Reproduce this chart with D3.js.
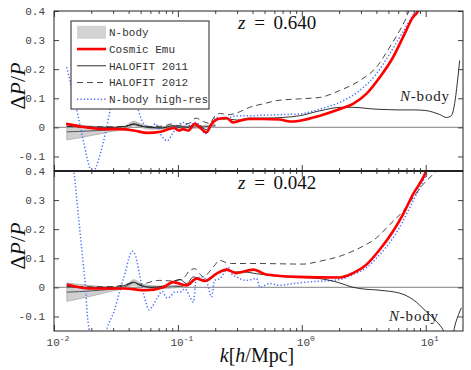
<!DOCTYPE html>
<html>
<head>
<meta charset="utf-8">
<script src="https://cdn.jsdelivr.net/npm/d3@7"></script>
<style>
  body { margin: 0; background: #fff; }
  svg { display: block; }
</style>
</head>
<body>
<svg id="chart" width="471" height="370"></svg>
<script>
// Axis settings.
const kDomain = [0.01, 20];
const yDomain = [-0.15, 0.4];
const yTicks = [-0.1, 0, 0.1, 0.2, 0.3, 0.4];
const kMajor = [0.01, 0.1, 1, 10];
const kMajorExp = ['-2', '-1', '0', '1'];
const legendLabels = ['N-body', 'Cosmic Emu', 'HALOFIT 2011', 'HALOFIT 2012', 'N-body high-res'];
const redshifts = ['0.640', '0.042'];

// z = 0.640 : N-body band.
const kBand640 = [0.0127, 0.016, 0.02, 0.025, 0.03, 0.035, 0.04, 0.044, 0.05, 0.06, 0.075, 0.09, 0.11, 0.13, 0.16, 0.2];
const bandHi640 = [0.012, 0.008, 0.004, 0.0, -0.002, -0.002, 0.012, 0.021, 0.012, 0.003, 0.002, 0.006, 0.005, 0.005, 0.006, 0.01];
const bandLo640 = [-0.043, -0.036, -0.028, -0.02, -0.013, -0.009, 0.0, 0.006, 0.0, -0.006, -0.006, -0.002, -0.003, -0.003, -0.002, 0.002];

// z = 0.640 : Cosmic Emu.
const kEmu640 = [0.0125, 0.0164, 0.0253, 0.0345, 0.0442, 0.0565, 0.0725, 0.0846, 0.0929, 0.102, 0.110, 0.121, 0.137, 0.150, 0.170, 0.187, 0.211, 0.247, 0.279, 0.316, 0.381, 0.488, 0.665, 0.80, 0.964, 1.40, 2.03, 2.59, 3.32, 4.26, 5.45, 6.56, 7.90, 8.67, 9.3];
const emu640 = [0.012, 0.003, -0.006, -0.006, -0.011, -0.019, -0.015, -0.006, -0.002, -0.011, -0.006, -0.011, 0.012, 0.0, -0.017, 0.012, 0.029, 0.032, 0.017, 0.023, 0.029, 0.029, 0.027, 0.020, 0.023, 0.040, 0.063, 0.081, 0.115, 0.172, 0.241, 0.310, 0.379, 0.40, 0.44];

// z = 0.640 : HALOFIT 2011 (thin black).
const kH11_640 = [0.0127, 0.02, 0.03, 0.038, 0.044, 0.05, 0.06, 0.075, 0.085, 0.093, 0.1, 0.11, 0.12, 0.137, 0.15, 0.17, 0.19, 0.22, 0.25, 0.3, 0.38, 0.5, 0.7, 0.96, 1.4, 2.1, 2.6, 3.2, 3.8, 5.0, 6.0, 8.0, 10.0, 11.5, 13.0, 14.7, 16.1, 17.1, 18.2, 18.8];
const h11_640 = [0.002, 0.001, 0.0, 0.004, 0.01, 0.004, 0.0, -0.002, 0.004, 0.006, 0.0, 0.002, 0.0, 0.012, 0.006, -0.008, 0.017, 0.029, 0.029, 0.025, 0.032, 0.032, 0.034, 0.040, 0.057, 0.069, 0.069, 0.066, 0.063, 0.061, 0.060, 0.060, 0.058, 0.052, 0.044, 0.034, 0.040, 0.081, 0.172, 0.230];

// z = 0.640 : HALOFIT 2012 (dashed).
const kH12_640 = [0.0127, 0.02, 0.03, 0.04, 0.044, 0.05, 0.06, 0.075, 0.09, 0.1, 0.11, 0.125, 0.14, 0.16, 0.18, 0.2, 0.22, 0.25, 0.3, 0.38, 0.49, 0.63, 0.96, 1.4, 2.03, 2.94, 4.0, 5.13, 6.17, 7.0, 7.6];
const h12_640 = [0.003, 0.002, 0.002, 0.006, 0.012, 0.006, 0.003, 0.004, 0.012, 0.006, 0.01, 0.015, 0.032, 0.02, 0.014, 0.04, 0.048, 0.043, 0.05, 0.069, 0.081, 0.092, 0.098, 0.103, 0.127, 0.161, 0.207, 0.276, 0.333, 0.379, 0.42];

// z = 0.640 : N-body high-res (dotted).
const kHr640 = [0.01266, 0.0154, 0.0169, 0.0186, 0.0204, 0.0217, 0.0238, 0.0261, 0.0278, 0.0295, 0.033, 0.037, 0.042, 0.046, 0.0485, 0.0532, 0.0602, 0.0661, 0.0725, 0.082, 0.090, 0.0977, 0.110, 0.125, 0.137, 0.155, 0.165, 0.175, 0.187, 0.205, 0.232, 0.262, 0.297, 0.38, 0.5, 0.7, 0.96, 1.4, 2.03, 2.94, 4.0, 5.13, 6.17, 7.43, 8.15, 8.8];
const hr640 = [0.207, 0.052, -0.029, -0.109, -0.16, -0.14, -0.086, -0.017, 0.040, 0.092, 0.18, 0.22, 0.17, 0.09, 0.052, 0.012, 0.0, 0.012, -0.023, -0.046, -0.023, 0.0, 0.017, 0.006, 0.017, 0.0, -0.023, -0.011, 0.017, 0.034, 0.029, 0.034, 0.040, 0.040, 0.042, 0.044, 0.046, 0.063, 0.086, 0.127, 0.184, 0.253, 0.310, 0.368, 0.40, 0.44];

// z = 0.042 : N-body band.
const kBand042 = [0.0127, 0.016, 0.02, 0.025, 0.03, 0.035, 0.04, 0.044, 0.05, 0.06, 0.075, 0.09, 0.11];
const bandHi042 = [0.015, 0.01, 0.006, 0.002, 0.0, 0.0, 0.014, 0.026, 0.014, 0.006, 0.004, 0.006, 0.008];
const bandLo042 = [-0.048, -0.039, -0.03, -0.02, -0.012, -0.006, 0.003, 0.008, 0.001, -0.004, -0.004, -0.002, 0.0];

// z = 0.042 : Cosmic Emu.
const kEmu042 = [0.0127, 0.0195, 0.0362, 0.056, 0.076, 0.0916, 0.1175, 0.1415, 0.165, 0.205, 0.247, 0.297, 0.405, 0.519, 0.906, 2.03, 2.59, 3.32, 4.26, 5.45, 6.56, 7.90, 9.53, 10.1, 10.8];
const emu042 = [0.010, -0.004, -0.004, -0.010, 0.0, 0.018, 0.007, 0.030, 0.022, 0.047, 0.061, 0.049, 0.061, 0.044, 0.036, 0.034, 0.049, 0.078, 0.130, 0.193, 0.251, 0.320, 0.377, 0.40, 0.43];

// z = 0.042 : HALOFIT 2011 (thin black).
const kH11_042 = [0.0127, 0.02, 0.03, 0.038, 0.0438, 0.0494, 0.0594, 0.081, 0.0862, 0.104, 0.1175, 0.133, 0.155, 0.17, 0.193, 0.218, 0.239, 0.279, 0.336, 0.431, 0.552, 0.753, 1.09, 1.40, 2.03, 2.5, 2.94, 4.26, 6.17, 7.90, 10.1, 12.2, 13.8, 15.6, 17.5, 19.4];
const h11_042 = [0.001, 0.0, 0.0, 0.008, 0.018, 0.007, 0.0, 0.007, 0.014, 0.027, 0.013, 0.036, 0.027, 0.024, 0.041, 0.053, 0.061, 0.053, 0.053, 0.047, 0.041, 0.036, 0.033, 0.030, 0.015, 0.002, -0.004, -0.010, -0.020, -0.042, -0.083, -0.117, -0.146, -0.20, -0.12, -0.07];

// z = 0.042 : HALOFIT 2012 (dashed).
const kH12_042 = [0.0127, 0.02, 0.03, 0.038, 0.044, 0.05, 0.0594, 0.0714, 0.09, 0.110, 0.125, 0.137, 0.150, 0.16, 0.193, 0.218, 0.239, 0.271, 0.431, 1.026, 1.40, 2.03, 2.94, 4.0, 5.13, 6.56, 7.90, 9.53, 11.5, 12.2, 13];
const h12_042 = [0.003, 0.002, 0.003, 0.01, 0.016, 0.01, 0.018, 0.024, 0.022, 0.03, 0.059, 0.064, 0.047, 0.036, 0.070, 0.093, 0.087, 0.082, 0.082, 0.080, 0.090, 0.107, 0.136, 0.170, 0.216, 0.262, 0.308, 0.354, 0.389, 0.40, 0.42];

// z = 0.042 : N-body high-res (dotted).
const kHr042 = [0.0127, 0.01449, 0.01496, 0.01541, 0.0164, 0.01746, 0.0180, 0.01856, 0.01915, 0.0215, 0.0245, 0.0269, 0.0305, 0.0345, 0.0378, 0.0403, 0.0428, 0.0456, 0.0485, 0.0515, 0.0549, 0.0583, 0.0621, 0.068, 0.0747, 0.082, 0.0862, 0.0945, 0.104, 0.114, 0.125, 0.133, 0.141, 0.155, 0.17, 0.18, 0.187, 0.198, 0.218, 0.239, 0.254, 0.271, 0.297, 0.357, 0.431, 0.46, 0.552, 0.665, 0.85, 1.09, 1.40, 2.03, 2.59, 3.32, 4.26, 5.45, 6.56, 7.90, 9.53, 10.4, 11];
const hr042 = [0.65, 0.40, 0.342, 0.285, 0.170, 0.055, -0.002, -0.094, -0.14, -0.22, -0.22, -0.14, -0.083, -0.002, 0.055, 0.101, 0.124, 0.107, 0.055, -0.002, -0.048, -0.077, -0.066, -0.037, -0.014, -0.037, -0.033, -0.016, -0.016, -0.005, -0.033, -0.051, 0.030, 0.036, 0.024, -0.016, -0.033, 0.024, 0.030, 0.053, 0.070, 0.047, 0.036, 0.024, 0.030, 0.0, 0.013, 0.007, 0.013, 0.018, 0.021, 0.027, 0.044, 0.067, 0.113, 0.170, 0.228, 0.297, 0.366, 0.40, 0.44];

// Pair up k values and series values.
const zip = (ks, vs) => ks.map((k, i) => ({ k, v: vs[i] }));
const zipBand = (ks, lo, hi) => ks.map((k, i) => ({ k, lo: lo[i], hi: hi[i] }));

const panels = [
  {
    z: redshifts[0],
    band: zipBand(kBand640, bandLo640, bandHi640),
    emu: zip(kEmu640, emu640),
    h11: zip(kH11_640, h11_640),
    h12: zip(kH12_640, h12_640),
    hr: zip(kHr640, hr640),
    nbodyAt: [400, 101]
  },
  {
    z: redshifts[1],
    band: zipBand(kBand042, bandLo042, bandHi042),
    emu: zip(kEmu042, emu042),
    h11: zip(kH11_042, h11_042),
    h12: zip(kH12_042, h12_042),
    hr: zip(kHr042, hr042),
    nbodyAt: [389, 321]
  }
];

const svg = d3.select('#chart');

// Dimensions.
const left = 54, right = 463, top0 = 11, panelH = 160;
const monoFont = '"Liberation Mono", "DejaVu Sans Mono", monospace';
const serifFont = '"Liberation Serif", "DejaVu Serif", serif';
const blue = '#4f70ff';

const xScale = d3.scaleLog().domain(kDomain).range([left, right]);
const kMinor = xScale.ticks().filter(k => !kMajor.includes(k) && k < kDomain[1]);

panels.forEach((p, i) => {
  const y0 = top0 + i * panelH;
  const y1 = y0 + panelH;
  const yScale = d3.scaleLinear().domain(yDomain).range([y1, y0]);

  // Clip.
  const clipId = `clip-${i}`;
  svg.append('clipPath').attr('id', clipId)
    .append('rect')
    .attr('x', left).attr('y', y0)
    .attr('width', right - left).attr('height', panelH);

  const plot = svg.append('g').attr('clip-path', `url(#${clipId})`);

  // Zero line.
  plot.append('line')
    .attr('x1', left).attr('x2', right)
    .attr('y1', yScale(0)).attr('y2', yScale(0))
    .attr('stroke', '#9a9a9a')
    .attr('stroke-width', 1.3);

  const line = d3.line()
    .x(d => xScale(d.k))
    .y(d => yScale(d.v))
    .curve(d3.curveMonotoneX);

  // N-body band.
  plot.append('path')
    .datum(p.band)
    .attr('fill', '#d0d0d0')
    .attr('stroke', '#a8a8a8')
    .attr('stroke-width', 0.8)
    .attr('d', d3.area()
      .x(d => xScale(d.k))
      .y0(d => yScale(d.lo))
      .y1(d => yScale(d.hi))
      .curve(d3.curveMonotoneX));

  plot.append('path')
    .datum(p.band.map(d => ({ k: d.k, v: (d.lo + d.hi) / 2 })))
    .attr('fill', 'none')
    .attr('stroke', '#555')
    .attr('stroke-width', 1)
    .attr('d', line);

  // N-body high-res.
  plot.append('path')
    .datum(p.hr)
    .attr('fill', 'none')
    .attr('stroke', blue)
    .attr('stroke-width', 1.5)
    .attr('stroke-dasharray', '1.3,2.1')
    .attr('d', line);

  // HALOFIT 2012.
  plot.append('path')
    .datum(p.h12)
    .attr('fill', 'none')
    .attr('stroke', '#333')
    .attr('stroke-width', 0.9)
    .attr('stroke-dasharray', '6,4')
    .attr('d', line);

  // HALOFIT 2011.
  plot.append('path')
    .datum(p.h11)
    .attr('fill', 'none')
    .attr('stroke', '#1a1a1a')
    .attr('stroke-width', 0.9)
    .attr('d', line);

  // Cosmic Emu.
  plot.append('path')
    .datum(p.emu)
    .attr('fill', 'none')
    .attr('stroke', '#ff0000')
    .attr('stroke-width', 2.6)
    .attr('stroke-linejoin', 'round')
    .attr('d', line);

  // Y axes (ticks inside).
  svg.append('g')
    .attr('transform', `translate(${left},0)`)
    .call(d3.axisLeft(yScale).tickValues(yTicks).tickSize(-5).tickPadding(9)
      .tickFormat(d => d === 0 ? '0' : String(d)))
    .call(g => g.select('.domain').remove())
    .call(g => g.selectAll('line').attr('stroke', '#444'))
    .call(g => g.selectAll('text')
      .attr('font-family', monoFont).attr('font-size', 11).attr('fill', '#444'));

  svg.append('g')
    .attr('transform', `translate(${right},0)`)
    .call(d3.axisRight(yScale).tickValues(yTicks).tickSize(-5).tickFormat(''))
    .call(g => g.select('.domain').remove())
    .call(g => g.selectAll('line').attr('stroke', '#444'));

  // X ticks on top and bottom edge.
  [[y0, d3.axisTop], [y1, d3.axisBottom]].forEach(([yy, axis]) => {
    svg.append('g')
      .attr('transform', `translate(0,${yy})`)
      .call(axis(xScale).tickValues(kMajor).tickSize(-6).tickFormat(''))
      .call(g => g.select('.domain').remove())
      .call(g => g.selectAll('line').attr('stroke', '#444'));
    svg.append('g')
      .attr('transform', `translate(0,${yy})`)
      .call(axis(xScale).tickValues(kMinor).tickSize(-3).tickFormat(''))
      .call(g => g.select('.domain').remove())
      .call(g => g.selectAll('line').attr('stroke', '#444'));
  });

  // Frame.
  svg.append('rect')
    .attr('x', left).attr('y', y0)
    .attr('width', right - left).attr('height', panelH)
    .attr('fill', 'none')
    .attr('stroke', '#222')
    .attr('stroke-width', 1);

  // Redshift label.
  const zText = svg.append('text')
    .attr('x', 238).attr('y', y0 + 18)
    .attr('font-family', serifFont)
    .attr('font-size', 19)
    .attr('word-spacing', 4)
    .attr('fill', '#111');
  zText.append('tspan').attr('font-style', 'italic').text('z');
  zText.append('tspan').text(` = ${p.z}`);

  // N-body note.
  const nText = svg.append('text')
    .attr('x', p.nbodyAt[0]).attr('y', p.nbodyAt[1])
    .attr('font-family', serifFont)
    .attr('font-size', 15)
    .attr('letter-spacing', 0.8)
    .attr('fill', '#222');
  nText.append('tspan').attr('font-style', 'italic').text('N');
  nText.append('tspan').text('-body');

  // Y label.
  const yText = svg.append('text')
    .attr('transform', `translate(25,${(yScale(0.4) + yScale(-0.15)) / 2 - 5}) rotate(-90)`)
    .attr('text-anchor', 'middle')
    .attr('font-family', serifFont)
    .attr('font-size', 22)
    .attr('fill', '#111');
  yText.append('tspan').text('Δ');
  yText.append('tspan').attr('font-style', 'italic').text('P');
  yText.append('tspan').text('/');
  yText.append('tspan').attr('font-style', 'italic').text('P');
});

// Thick line between panels.
svg.append('line')
  .attr('x1', left).attr('x2', right)
  .attr('y1', top0 + panelH).attr('y2', top0 + panelH)
  .attr('stroke', '#222')
  .attr('stroke-width', 2);

// X tick labels.
const yBottom = top0 + 2 * panelH;
kMajor.forEach((k, i) => {
  const t = svg.append('text')
    .attr('x', xScale(k) + 4).attr('y', yBottom + 15)
    .attr('text-anchor', 'middle')
    .attr('font-family', monoFont)
    .attr('font-size', 11)
    .attr('fill', '#444');
  t.append('tspan').text('10');
  t.append('tspan').attr('font-size', 8).attr('dy', -5).text(kMajorExp[i]);
});

// X label.
const xText = svg.append('text')
  .attr('x', 257).attr('y', 362)
  .attr('text-anchor', 'middle')
  .attr('font-family', serifFont)
  .attr('font-size', 20)
  .attr('fill', '#111');
xText.append('tspan').attr('font-style', 'italic').text('k');
xText.append('tspan').text('[');
xText.append('tspan').attr('font-style', 'italic').text('h');
xText.append('tspan').text('/Mpc]');

// Legend.
const legend = svg.append('g');
legend.append('rect')
  .attr('x', 71).attr('y', 21)
  .attr('width', 138).attr('height', 88)
  .attr('fill', '#fff')
  .attr('stroke', '#222')
  .attr('stroke-width', 1);

const rowY = i => 32.3 + i * 16.75;
const swatches = [
  g => g.append('rect').attr('x', 77).attr('y', -6.5).attr('width', 29).attr('height', 13).attr('fill', '#d3d3d3'),
  g => g.append('line').attr('x1', 77).attr('x2', 106).attr('stroke', '#ff0000').attr('stroke-width', 2.6),
  g => g.append('line').attr('x1', 77).attr('x2', 106).attr('stroke', '#1a1a1a').attr('stroke-width', 0.9),
  g => g.append('line').attr('x1', 77).attr('x2', 106).attr('stroke', '#333').attr('stroke-width', 0.9).attr('stroke-dasharray', '6,4'),
  g => g.append('line').attr('x1', 77).attr('x2', 106).attr('stroke', blue).attr('stroke-width', 1.5).attr('stroke-dasharray', '1.3,2.1')
];

legendLabels.forEach((label, i) => {
  const row = legend.append('g').attr('transform', `translate(0,${rowY(i)})`);
  swatches[i](row);
  row.append('text')
    .attr('x', 109).attr('y', 0)
    .attr('dy', '0.35em')
    .attr('font-family', monoFont)
    .attr('font-size', 11)
    .attr('fill', '#333')
    .text(label);
});
</script>
</body>
</html>
